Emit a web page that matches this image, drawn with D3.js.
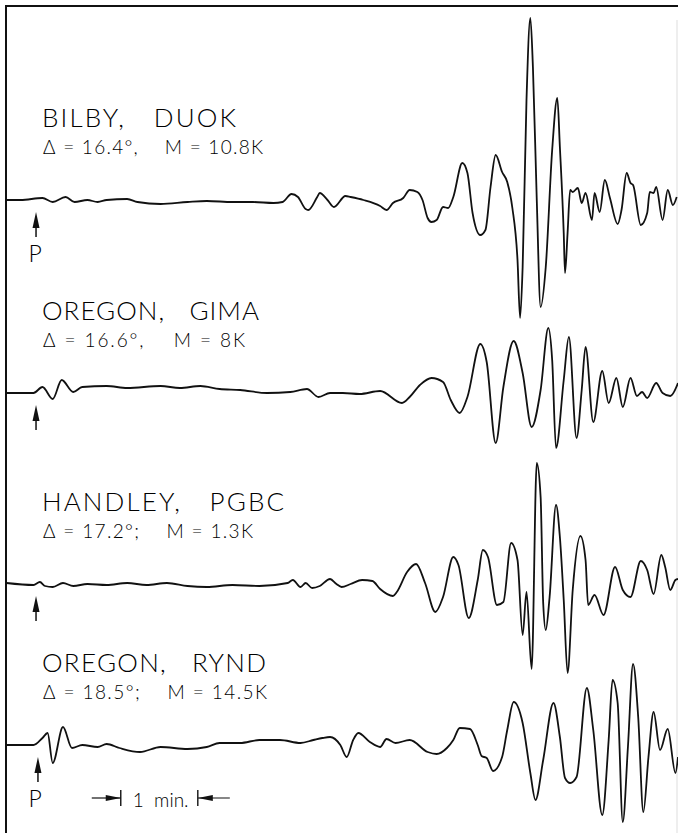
<!DOCTYPE html>
<html lang="en">
<head>
<meta charset="UTF-8">
<title>P wave records</title>
<script src="https://cdnjs.cloudflare.com/ajax/libs/d3/7.8.5/d3.min.js"></script>
<style>
  body { margin: 0; background: #fff; }
  svg { display: block; }
  text { font-family: Lato, "Open Sans", "DejaVu Sans", sans-serif; font-weight: 300; fill: #000; }
</style>
</head>
<body>
<script>
// station labels
const stations = ["BILBY,   DUOK", "OREGON,   GIMA", "HANDLEY,   PGBC", "OREGON,   RYND"];
const deltas = ["16.4", "16.6", "17.2", "18.5"];
const seps = [",", ",", ";", ";"];
const mags = ["10.8", "8", "1.3", "14.5"];
const pTimes = [0, 0, 0, 1.5];
const pLabel = [true, false, false, true];
const scaleBar = [66, 126]; // one minute

// traces as [seconds after P, deflection]
const duok = [[-23,0],[-12,0],[5,0.4],[13,-0.4],[23,0.6],[30,-0.4],[40,0],[48,-0.4],[55,0],[71,0.2],[79,-0.4],[97,-0.8],[118,-0.4],[133,-0.2],[153,-0.4],[169,-0.4],[185,-0.6],[192,-0.4],[199,1.2],[204,0.6],[210,-1.8],[212,-2],[219,0.6],[221,1.4],[227,0],[232,-1.4],[241,0.8],[245,0.6],[255,0],[268,-1.2],[273,-2],[278,-0.6],[286,0.4],[291,2],[297,1.6],[301,0],[305,-3.6],[308,-4.4],[312,-4],[317,-1.4],[321,-1.6],[325,0.6],[332,7.4],[336,5.4],[340,-2.6],[346,-7],[350,-6],[354,2.6],[358,9],[363,5.6],[367,3.6],[371,-1.6],[375,-12],[377,-23.6],[379,-13.4],[382,20],[385,36.4],[387,26.6],[390,0],[393,-21.4],[397,-13.4],[402,10],[406,20.4],[408,10.6],[411,-6.6],[412,-14.6],[414,-6.6],[416,2],[418,1.6],[422,2.4],[425,-0.6],[428,1.4],[433,-4],[435,1.4],[439,-2.4],[443,4],[447,0.4],[453,-4.8],[456,-2],[460,5.4],[463,3.4],[465,3],[471,-5],[476,-2.6],[478,1.6],[481,1.4],[483,2.6],[488,-4],[492,2],[496,-1],[499,0.6]];

const gima = [[-23,0],[-2,0],[5,1.2],[13,-1.2],[20,2.6],[29,0.2],[36,1.2],[55,1.4],[71,1],[97,1.4],[112,1],[128,1.4],[143,0.8],[159,0.6],[180,0],[198,0.2],[211,0.8],[220,-0.8],[229,0],[239,0],[252,-0.2],[268,0.4],[285,-2],[291,-0.8],[299,1.6],[308,3],[317,2.2],[323,-1.4],[330,-4],[336,-0.8],[346,9.8],[351,6.2],[358,-10],[364,1.2],[372,10.4],[379,4],[386,-6.8],[393,0.6],[399,13],[402,6.6],[405,-11],[411,2.6],[415,11.2],[421,-9],[425,0.6],[428,9.2],[434,-5.8],[441,4.4],[446,-2],[452,3],[457,-2.8],[463,3],[468,-0.6],[472,0.2],[476,-1],[483,2],[488,0],[494,-0.6],[500,2]];

const pgbc = [[-23,0.2],[-2,-0.2],[3,0.4],[7,-0.4],[13,-0.6],[21,0.2],[29,-0.4],[40,0],[55,-0.2],[71,0.2],[86,-0.2],[102,0.2],[118,-0.4],[133,-0.6],[153,-0.2],[174,-0.4],[196,0.2],[200,0.8],[206,-0.6],[210,0.2],[215,-0.8],[221,-0.4],[229,1],[234,0],[238,-0.6],[245,0],[254,0.8],[262,0.6],[268,-1],[278,-2.4],[281,-1.6],[289,2.4],[296,4],[303,0.2],[311,-5.6],[317,-2.6],[325,5.4],[329,3.8],[337,-6.8],[344,0.8],[348,6.8],[352,5.4],[359,-4.2],[364,-3.6],[370,8.2],[375,4.8],[379,-10.2],[382,-1.6],[386,-17],[390,24.2],[393,17.4],[395,-3.8],[397,-9.2],[400,-2.6],[405,15.8],[408,9.4],[411,-3.2],[414,-17.8],[418,-1.2],[424,9.6],[428,4.8],[430,-4.2],[435,-2.2],[442,-6.2],[451,3.4],[457,-1.2],[463,-2.6],[471,4.6],[476,2.8],[481,-2],[487,5.8],[490,3.4],[494,-1.2],[498,0.8],[500,1]];

const rynd = [[-23,0],[-2,0],[5,1.4],[9,2.4],[13,-3.6],[21,3.6],[28,-0.6],[36,0],[48,-0.4],[55,0.2],[65,-0.6],[81,-1.4],[97,-0.4],[118,-0.8],[133,-0.4],[143,0.4],[159,0.4],[174,1],[190,1],[206,0.4],[216,1],[223,1.4],[229,1.6],[237,0],[242,-2.4],[247,1],[251,2.4],[260,0.6],[268,-0.4],[273,1.2],[280,0.4],[291,1],[305,-1.4],[312,-1.8],[320,-0.6],[325,1],[330,3.4],[338,3.2],[344,0],[347,-2.2],[351,-2.6],[356,-5.2],[363,-2.4],[367,3],[372,8.6],[379,4.4],[385,-5.6],[389,-11],[395,-3],[403,8.4],[408,1.6],[412,-6.6],[416,-7.6],[421,-6.4],[429,11.4],[434,3],[441,-14],[446,1],[449,13],[453,8.4],[457,-15.4],[461,-0.4],[465,16.2],[469,5.6],[473,-13.4],[477,-2.4],[481,6.6],[486,-1],[492,3.2],[498,-5.6],[500,-2.4]];

const traces = [duok, gima, pgbc, rynd];

// layout
const W = 678, H = 833;
const baseY = [200, 393, 584, 745];
const titleW = [194, 217, 242, 224];
const subW = [220, 202, 210, 224];

const x = d3.scaleLinear().domain([-23, 500]).range([6.5, 678]);
const amp = d3.scaleLinear().domain([0, 1]).range([0, -5]);

const svg = d3.select('body').append('svg')
    .attr('width', W)
    .attr('height', H);

// frame
svg.append('path')
    .attr('d', `M6,${H} L6,6 L${W},6`)
    .attr('fill', 'none')
    .attr('stroke', '#111')
    .attr('stroke-width', 2);
svg.append('line')
    .attr('x1', 677).attr('x2', 677)
    .attr('y1', 20).attr('y2', H)
    .attr('stroke', '#ddd')
    .attr('stroke-width', 1);

const line = d3.line()
    .x(d => x(d[0]))
    .y(d => amp(d[1]))
    .curve(d3.curveMonotoneX);

const rows = svg.selectAll('g.row')
    .data(traces)
    .enter().append('g')
    .attr('class', 'row')
    .attr('transform', (d, i) => `translate(0,${baseY[i]})`);

rows.append('path')
    .attr('d', d => line(d))
    .attr('fill', 'none')
    .attr('stroke', '#111')
    .attr('stroke-width', 1.8)
    .attr('stroke-linejoin', 'round');

// labels
rows.append('text')
    .attr('x', 42)
    .attr('y', -73)
    .attr('font-size', 26)
    .attr('textLength', (d, i) => titleW[i])
    .attr('lengthAdjust', 'spacing')
    .style('white-space', 'pre')
    .text((d, i) => stations[i]);

rows.append('text')
    .attr('x', 43)
    .attr('y', -46)
    .attr('font-size', 19)
    .attr('textLength', (d, i) => subW[i])
    .attr('lengthAdjust', 'spacing')
    .style('white-space', 'pre')
    .text((d, i) => `\u0394 = ${deltas[i]}\u00b0${seps[i]}    M = ${mags[i]}K`);

// P arrows
rows.append('path')
    .attr('d', (d, i) => {
        const px = x(pTimes[i]);
        return `M${px},12 L${px - 3.5},28 L${px + 3.5},28 Z`;
    })
    .attr('fill', '#111');
rows.append('line')
    .attr('x1', (d, i) => x(pTimes[i]))
    .attr('x2', (d, i) => x(pTimes[i]))
    .attr('y1', 24).attr('y2', 37)
    .attr('stroke', '#111')
    .attr('stroke-width', 1.5);
rows.filter((d, i) => pLabel[i]).append('text')
    .attr('x', (d, i) => x(pTimes[i]) - 1)
    .attr('y', 62)
    .attr('text-anchor', 'middle')
    .attr('font-size', 23)
    .text('P');

// one minute bar
const bar = svg.append('g').attr('transform', `translate(0,${baseY[3] + 53})`);
const b0 = x(scaleBar[0]), b1 = x(scaleBar[1]);
bar.append('line').attr('x1', b0 - 29).attr('x2', b0).attr('y1', 0).attr('y2', 0)
    .attr('stroke', '#111').attr('stroke-width', 1.2);
bar.append('path').attr('d', `M${b0},0 L${b0 - 15},-3 L${b0 - 15},3 Z`).attr('fill', '#111');
bar.append('line').attr('x1', b0).attr('x2', b0).attr('y1', -8).attr('y2', 8)
    .attr('stroke', '#111').attr('stroke-width', 1.4);
bar.append('line').attr('x1', b1).attr('x2', b1 + 32).attr('y1', 0).attr('y2', 0)
    .attr('stroke', '#111').attr('stroke-width', 1.2);
bar.append('path').attr('d', `M${b1},0 L${b1 + 15},-3 L${b1 + 15},3 Z`).attr('fill', '#111');
bar.append('line').attr('x1', b1).attr('x2', b1).attr('y1', -8).attr('y2', 8)
    .attr('stroke', '#111').attr('stroke-width', 1.4);
bar.append('text')
    .attr('x', b0 + 12)
    .attr('y', 9)
    .attr('font-size', 19)
    .style('white-space', 'pre')
    .text('1  min.');
</script>
</body>
</html>
